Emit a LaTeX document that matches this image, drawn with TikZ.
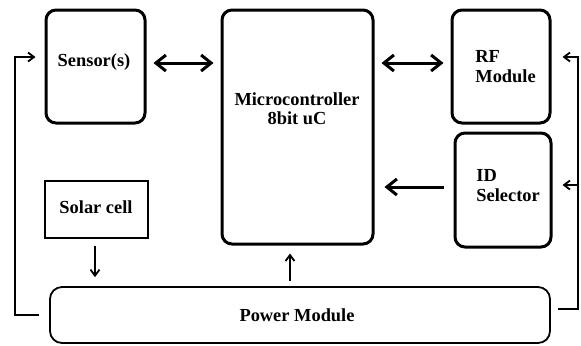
\documentclass[tikz,border=0pt]{standalone}
\usepackage{fontspec}
\setmainfont{Liberation Serif}[BoldFont={Liberation Serif Bold}]
\usetikzlibrary{arrows.meta}

\begin{document}
\begin{tikzpicture}[x=0.5pt, y=-0.5pt,
    block/.style={draw, line width=1.5pt, rounded corners=5pt},
    plainbox/.style={draw, line width=0.9pt},
    txt/.style={font=\rmfamily\bfseries\fontsize{9.2}{9.6}\selectfont, inner sep=0pt},
    bothway/.style={line width=1.5pt, {Straight Barb[length=5pt,width=8pt]}-{Straight Barb[length=5pt,width=8pt]}},
    oneway/.style={line width=1.5pt, -{Straight Barb[length=5pt,width=8pt]}},
    thinarrow/.style={line width=0.9pt, -{Straight Barb[length=3pt,width=4.5pt]}}]
    \useasboundingbox (0,0) rectangle (581,345);

    % draw blocks
    \node[block, minimum width=49.5pt, minimum height=56.5pt] (sensor) at (95.5,66.5) {};
    \node[block, minimum width=75.5pt, minimum height=117pt] (micro) at (297.5,127) {};
    \node[block, minimum width=49pt, minimum height=56.5pt] (rf) at (501,66.5) {};
    \node[block, minimum width=48pt, minimum height=57pt] (id) at (503,190) {};
    \node[plainbox, minimum width=51.5pt, minimum height=28.5pt] (solar) at (96.5,209.5) {};
    \node[plainbox, rounded corners=6pt, minimum width=250pt, minimum height=28pt] (power) at (300,315) {};

    % draw labels
    \node[txt] (sensortxt) at (94,62) {Sensor(s)};
    \node[txt, align=center] (microtxt) at (297,109) {Microcontroller\\8bit uC};
    \node[txt, align=left, anchor=west] (rftxt) at (475,66.5) {RF\\Module};
    \node[txt, align=left, anchor=west] (idtxt) at (476,185.5) {ID\\Selector};
    \node[txt] (solartxt) at (96,207) {Solar cell};
    \node[txt] (powertxt) at (297,315) {Power Module};

    % draw data arrows
    \draw[bothway] ([xshift=3.5pt,yshift=1.75pt]sensor.east) -- ([xshift=-3.5pt,yshift=1.75pt]sensor.east -| micro.west);
    \draw[bothway] ([xshift=3.5pt,yshift=1.75pt]rf.west -| micro.east) -- ([xshift=-3.5pt,yshift=1.75pt]rf.west);
    \draw[oneway] ([xshift=-5pt,yshift=1.5pt]id.west) -- ([xshift=5pt,yshift=1.5pt]id.west -| micro.east);

    % draw power arrows
    \draw[thinarrow] ([xshift=-0.75pt,yshift=-3.5pt]solar.south) -- ([xshift=-0.75pt,yshift=4.5pt]solar.south |- power.north);
    \draw[thinarrow] ([xshift=-3.75pt,yshift=2.5pt]micro.south |- power.north) -- ([xshift=-3.75pt,yshift=-4pt]micro.south);

    \coordinate (lbus) at (15,315);
    \coordinate (rbus) at (578,309);
    \draw[thinarrow] ([xshift=-5pt]power.west) -- (lbus) |- ([xshift=-4.5pt,yshift=4.75pt]sensor.west);
    \draw[thinarrow] ([xshift=3.5pt,yshift=3pt]power.east) -- (rbus) |- ([xshift=5.5pt,yshift=4.75pt]rf.east);
    \draw[thinarrow] ([yshift=2.5pt]id.east -| rbus) -- ([xshift=5pt,yshift=2.5pt]id.east);
\end{tikzpicture}
\end{document}
